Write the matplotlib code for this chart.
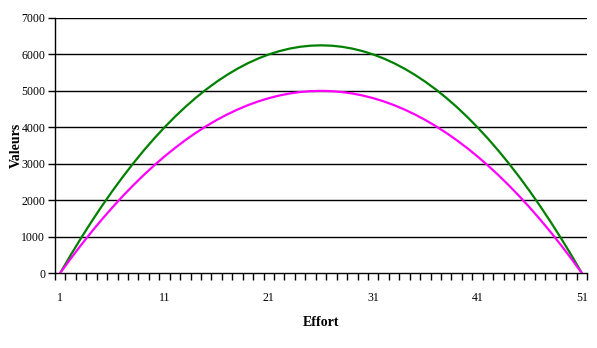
import matplotlib
matplotlib.use("Agg")
import matplotlib.pyplot as plt
import numpy as np

effort = list(range(1, 52))
half_green = [0, 490, 960, 1410, 1840, 2250, 2640, 3010, 3360, 3690, 4000, 4290, 4560,
              4810, 5040, 5250, 5440, 5610, 5760, 5890, 6000, 6090, 6160, 6210, 6240]
green = half_green + [6250] + half_green[::-1]
half_mag = [0, 392, 768, 1128, 1472, 1800, 2112, 2408, 2688, 2952, 3200, 3432, 3648,
            3848, 4032, 4200, 4352, 4488, 4608, 4712, 4800, 4872, 4928, 4968, 4992]
magenta = half_mag + [5000] + half_mag[::-1]
xtick_labels = ["1", "11", "21", "31", "41", "51"]
yticks = [0, 1000, 2000, 3000, 4000, 5000, 6000, 7000]

plt.rcParams['font.family'] = ['Liberation Serif', 'DejaVu Serif']

fig = plt.figure(figsize=(5.97, 3.48), dpi=100)
ax = fig.add_axes([55/597, 1-273/348, 532/597, 255/348])

for y in yticks[1:]:
    ax.axhline(y, color='black', lw=1, zorder=1)

ax.plot(effort, green, color='#008000', lw=1.6, zorder=3)
ax.plot(effort, magenta, color='#FF00FF', lw=1.6, zorder=3)

ax.set_xlim(0.5, 51.5)
ax.set_ylim(0, 7000)
ax.set_yticks(yticks)
ax.set_yticklabels([str(v) for v in yticks], fontsize=8.5)
ax.set_xticks([int(v) for v in xtick_labels])
ax.set_xticklabels(xtick_labels, fontsize=8.5)
ax.tick_params(axis='x', which='major', length=0, pad=14)
ax.set_xticks(np.arange(0.5, 52, 1.0), minor=True)
ax.tick_params(axis='x', which='minor', length=5, direction='out', width=1, color='black')
ax.tick_params(axis='y', length=5, direction='out', width=1, pad=2)

for s in ['top', 'right']:
    ax.spines[s].set_visible(False)
for s in ['left', 'bottom']:
    ax.spines[s].set_color('black')
    ax.spines[s].set_linewidth(1)

ax.set_xlabel('Effort', fontsize=10, fontweight='bold')
ax.xaxis.set_label_coords(0.5, (273 - 322) / 255)
ax.xaxis.label.set_va('center')
ax.set_ylabel('Valeurs', fontsize=10, fontweight='bold')
ax.yaxis.set_label_coords((16 - 55) / 532, 0.5)
ax.yaxis.label.set_va('center')

fig.savefig('out.png', dpi=100)
